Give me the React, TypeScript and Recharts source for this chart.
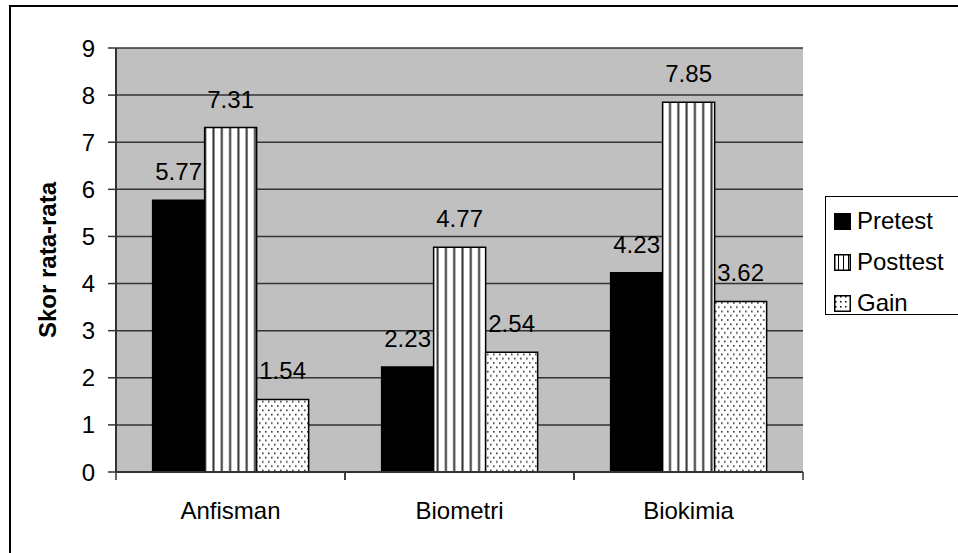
import React from "react";
import {
  BarChart,
  Bar,
  XAxis,
  YAxis,
  CartesianGrid,
  LabelList,
} from "recharts";

const categories = ["Anfisman", "Biometri", "Biokimia"];
const pretest = [5.77, 2.23, 4.23];
const posttest = [7.31, 4.77, 7.85];
const gain = [1.54, 2.54, 3.62];
const yTicks = [0, 1, 2, 3, 4, 5, 6, 7, 8, 9];

const data = categories.map((name, i) => ({
  name,
  pretest: pretest[i],
  posttest: posttest[i],
  gain: gain[i],
}));

const series = [
  { key: "pretest", label: "Pretest", fill: "#000000", swatch: "#000000" },
  { key: "posttest", label: "Posttest", fill: "url(#stripes)", swatch: "url(#stripesSmall)" },
  { key: "gain", label: "Gain", fill: "url(#dots)", swatch: "url(#dotsSmall)" },
];

const FONT = 24;

// label in the middle of the band, ticks on the band edges
const CategoryTick = (props: any) => {
  const { x, y, payload } = props;
  const off = payload.offset || 0;
  return (
    <g>
      <line x1={x - off} x2={x - off} y1={y - 8} y2={y} stroke="#333" strokeWidth={1.5} />
      <line x1={x + off} x2={x + off} y1={y - 8} y2={y} stroke="#333" strokeWidth={1.5} />
      <text x={x} y={y + 39} textAnchor="middle" fontSize={FONT} fill="#000">
        {payload.value}
      </text>
    </g>
  );
};

const Patterns = () => (
  <defs>
    <pattern id="stripes" width="8.3" height="8" patternUnits="userSpaceOnUse">
      <rect width="8.3" height="8" fill="#fff" />
      <rect x="5" width="2" height="8" fill="#333" />
    </pattern>
    <pattern id="dots" width="6" height="8.6" patternUnits="userSpaceOnUse">
      <rect width="6" height="8.6" fill="#fff" />
      <rect x="1" y="1" width="1.6" height="1.6" fill="#333" />
      <rect x="4" y="5.3" width="1.6" height="1.6" fill="#333" />
    </pattern>
  </defs>
);

export default function App() {
  return (
    <div
      style={{
        position: "absolute",
        left: 0,
        top: 0,
        width: 958,
        height: 553,
        overflow: "hidden",
        background: "#fff",
        fontFamily: "'Liberation Sans', Arial, sans-serif",
      }}
    >
      {/* outer chart frame, cut off on the right and bottom */}
      <div
        style={{
          position: "absolute",
          left: 9,
          top: 5,
          width: 1000,
          height: 600,
          border: "2px solid #000",
        }}
      />
      <div style={{ position: "absolute", left: 0, top: 0 }}>
        <BarChart
          width={958}
          height={553}
          data={data}
          margin={{ top: 48, right: 155, bottom: 51, left: 0 }}
          barCategoryGap="16%"
          barGap={0}
        >
          <Patterns />
          <CartesianGrid
            vertical={false}
            fill="#c0c0c0"
            fillOpacity={1}
            stroke="#333"
            strokeWidth={1.5}
          />
          <XAxis
            dataKey="name"
            height={30}
            tick={<CategoryTick />}
            tickLine={false}
            tickSize={8}
            tickMargin={0}
            axisLine={{ stroke: "#333", strokeWidth: 2 }}
            interval={0}
          />
          <XAxis
            xAxisId="top"
            dataKey="name"
            orientation="top"
            height={0}
            tick={false}
            tickLine={false}
            axisLine={{ stroke: "#808080", strokeWidth: 2 }}
          />
          <YAxis
            width={116}
            domain={[0, 9]}
            ticks={yTicks}
            interval={0}
            tickSize={8}
            tickMargin={13}
            tick={{ fontSize: FONT, fill: "#000" }}
            tickLine={{ stroke: "#333", strokeWidth: 1.5 }}
            axisLine={{ stroke: "#333", strokeWidth: 2 }}
            label={{
              value: "Skor rata-rata",
              angle: -90,
              position: "center",
              dx: -11,
              style: { fontSize: FONT, fontWeight: "bold", fill: "#000" },
            }}
          />
          <YAxis
            yAxisId="r"
            orientation="right"
            width={0}
            domain={[0, 9]}
            tick={false}
            tickLine={false}
            axisLine={{ stroke: "#808080", strokeWidth: 2 }}
          />
          {series.map((s) => (
            <Bar
              key={s.key}
              dataKey={s.key}
              fill={s.fill}
              stroke="#000"
              strokeWidth={1.5}
              isAnimationActive={false}
            >
              <LabelList
                dataKey={s.key}
                position="top"
                offset={20}
                fontSize={FONT}
                fill="#000"
                formatter={(v: any) => Number(v).toFixed(2)}
              />
            </Bar>
          ))}
        </BarChart>
      </div>
      {/* legend */}
      <div
        style={{
          position: "absolute",
          left: 825,
          top: 196,
          width: 160,
          height: 117,
          border: "1px solid #000",
          background: "#fff",
        }}
      >
        <svg width={0} height={0} style={{ position: "absolute" }}>
          <defs>
            <pattern id="stripesSmall" width="5" height="5" patternUnits="userSpaceOnUse">
              <rect width="5" height="5" fill="#fff" />
              <rect x="4" width="1.5" height="5" fill="#000" />
            </pattern>
            <pattern id="dotsSmall" width="5" height="5" patternUnits="userSpaceOnUse">
              <rect width="5" height="5" fill="#fff" />
              <rect x="1" y="1" width="1.5" height="1.5" fill="#000" />
            </pattern>
          </defs>
        </svg>
        {series.map((s, i) => (
          <div
            key={s.key}
            style={{
              position: "absolute",
              left: 8,
              top: 10 + i * 41,
              height: 28,
              display: "flex",
              alignItems: "center",
              fontSize: FONT,
              whiteSpace: "nowrap",
            }}
          >
            <svg width={17} height={17} style={{ marginRight: 6 }}>
              <rect x={0.75} y={0.75} width={15.5} height={15.5} fill={s.swatch} stroke="#000" strokeWidth={1.5} />
            </svg>
            {s.label}
          </div>
        ))}
      </div>
    </div>
  );
}
